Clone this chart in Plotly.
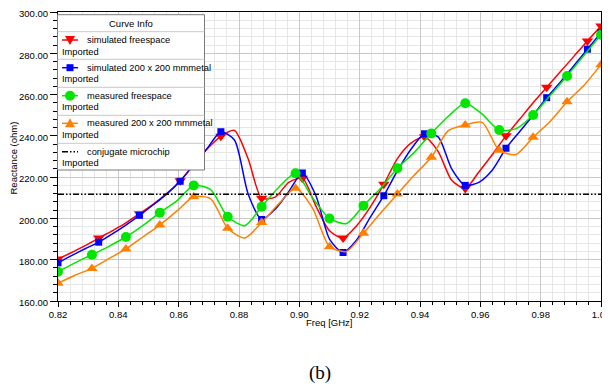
import plotly.graph_objects as go

# ---------------- data ----------------
sim_freq = [0.82, 0.8245, 0.829, 0.8335, 0.838, 0.8425, 0.847, 0.8515, 0.856, 0.8605,
            0.865, 0.8695, 0.874, 0.8785, 0.883, 0.8875, 0.892, 0.8965, 0.901, 0.9055,
            0.91, 0.9145, 0.919, 0.9235, 0.928, 0.9325, 0.937, 0.9415, 0.946, 0.9505,
            0.955, 0.9595, 0.964, 0.9685, 0.973, 0.9775, 0.982, 0.9865, 0.991, 0.9955, 1.0]
sim_free = [180.3, 183.5, 186.8, 190.5, 194.0, 197.8, 202.3, 206.8, 212.0, 218.3,
            226.0, 233.8, 239.8, 242.6, 229.0, 209.8, 210.3, 217.5, 219.5, 206.0,
            194.0, 190.5, 196.5, 205.5, 216.5, 229.0, 236.5, 239.6, 232.5, 218.5,
            214.5, 222.5, 231.0, 240.0, 248.0, 256.0, 263.5, 271.0, 278.5, 286.0, 293.2]
sim_metal = [178.5, 182.0, 185.3, 188.5, 192.5, 196.8, 201.5, 206.5, 211.8, 218.0,
             226.0, 234.0, 242.0, 238.0, 212.0, 199.5, 204.5, 213.0, 222.0, 211.0,
             190.0, 183.5, 189.5, 200.5, 211.0, 223.0, 233.5, 241.0, 239.5, 224.0,
             216.0, 217.5, 223.5, 234.0, 242.0, 250.0, 258.5, 266.0, 274.0, 282.0, 290.0]

meas_freq = [0.82, 0.825625, 0.83125, 0.836875, 0.8425, 0.848125, 0.85375, 0.859375,
             0.865, 0.870625, 0.87625, 0.881875, 0.8875, 0.893125, 0.89875, 0.904375,
             0.91, 0.915625, 0.92125, 0.926875, 0.9325, 0.938125, 0.94375, 0.949375,
             0.955, 0.960625, 0.96625, 0.971875, 0.9775, 0.983125, 0.98875, 0.994375, 1.0]
meas_free = [174.2, 178.5, 182.4, 186.5, 191.0, 196.5, 202.8, 208.5, 216.0, 214.0,
             200.8, 196.5, 205.7, 215.0, 221.9, 210.0, 200.0, 197.5, 206.2, 214.5,
             224.3, 232.0, 241.2, 249.5, 255.8, 250.5, 242.8, 243.5, 250.1, 259.5,
             269.0, 279.0, 289.0]
meas_metal = [168.6, 172.5, 175.8, 180.5, 185.2, 191.0, 196.8, 203.5, 210.5, 209.5,
              195.2, 190.5, 198.0, 207.0, 214.6, 205.0, 186.3, 184.0, 192.8, 202.5,
              211.8, 221.0, 229.6, 242.5, 245.3, 246.5, 233.0, 231.0, 239.3, 247.0,
              256.5, 264.5, 274.5]

conj_freq = [0.82, 1.0]
conj_r = [211.7, 211.7]

x_ticks = [0.82, 0.84, 0.86, 0.88, 0.90, 0.92, 0.94, 0.96, 0.98, 1.00]
x_tick_labels = ["0.82", "0.84", "0.86", "0.88", "0.90", "0.92", "0.94", "0.96", "0.98", "1.00"]
y_ticks = [160, 180, 200, 220, 240, 260, 280, 300]
y_tick_labels = ["160.00", "180.00", "200.00", "220.00", "240.00", "260.00", "280.00", "300.00"]

series_names = ["simulated freespace", "simulated 200 x 200 mmmetal",
                "measured freespace", "measured 200 x 200 mmmetal",
                "conjugate microchip"]
sub_label = "Imported"
legend_title = "Curve Info"
x_title = "Freq [GHz]"
y_title = "Reactance (ohm)"
caption = "(b)"

# ---------------- styling ----------------
RED, BLUE, GREEN, ORANGE = "#FF0000", "#0000FF", "#00E600", "#FF8000"
FONT = "Liberation Sans, Arial, sans-serif"
# the page body has an 8px margin: the figure is sized so it fills the 610x389 window
OFF = 8
W, H = 610 - OFF, 389 - OFF
L, R, T, B = 58 - OFF, 9, 12 - OFF, 88
PW, PH = W - L - R, H - T - B
PLOT_L, PLOT_B = 58, 301   # screen pixels of plot-area left / bottom


def xp(px):
    return (px - PLOT_L) / PW


def yp(py):
    return (PLOT_B - py) / PH


fig = go.Figure()

curves = [
    (sim_freq, sim_free, RED, "triangle-down", 10, list(range(0, 41, 3)) + [40]),
    (sim_freq, sim_metal, BLUE, "square", 7, list(range(0, 41, 3)) + [40]),
    (meas_freq, meas_free, GREEN, "circle", 10, list(range(0, 33, 2))),
    (meas_freq, meas_metal, ORANGE, "triangle-up", 10, list(range(0, 33, 2))),
]
for fx, fy, col, sym, msz, idx in curves:
    fig.add_trace(go.Scatter(x=fx, y=fy, mode="lines",
                             line=dict(color=col, width=1.5, shape="spline", smoothing=0.7),
                             showlegend=False, hoverinfo="skip"))
    fig.add_trace(go.Scatter(x=[fx[i] for i in idx], y=[fy[i] for i in idx], mode="markers",
                             marker=dict(color=col, symbol=sym, size=msz, line=dict(width=0)),
                             showlegend=False, hoverinfo="skip"))

DASH = "6px,2px,1.5px,2px,1.5px,2px"
fig.add_trace(go.Scatter(x=conj_freq, y=conj_r, mode="lines",
                         line=dict(color="black", width=1.5, dash=DASH),
                         showlegend=False, hoverinfo="skip"))

axis_common = dict(showline=True, linecolor="black", linewidth=1, mirror=True,
                   ticks="outside", tickcolor="black", showgrid=True, gridcolor="#C8C8C8",
                   gridwidth=1, zeroline=False, ticklabeloverflow="allow",
                   tickfont=dict(family=FONT, size=9.5, color="black"))

fig.update_xaxes(range=[0.82, 1.0], tickmode="array", tickvals=x_ticks, ticktext=x_tick_labels,
                 ticklen=5,
                 minor=dict(tickmode="linear", tick0=0.82, dtick=0.004, ticks="outside",
                            ticklen=3, tickcolor="black", showgrid=True, gridcolor="#E6E6E6"),
                 **axis_common)
fig.update_yaxes(range=[160, 300], tickmode="array", tickvals=y_ticks, ticktext=y_tick_labels,
                 ticklen=7, ticklabelshift=2,
                 minor=dict(tickmode="linear", tick0=160, dtick=4, ticks="outside", ticklen=4,
                            tickcolor="black", showgrid=True, gridcolor="#E6E6E6"),
                 **axis_common)

shapes = []
annots = []

# legend box
box_l, box_r, box_t, box_b = 57.5, 204.5, 14.7, 170.0
shapes.append(dict(type="rect", xref="paper", yref="paper", x0=xp(box_l), x1=xp(box_r),
                   y0=yp(box_b), y1=yp(box_t), fillcolor="white",
                   line=dict(color="#7A7A7A", width=1), layer="above"))
for sy in [31.7, 59.3, 87.3, 115.3, 143.3]:
    shapes.append(dict(type="line", xref="paper", yref="paper", x0=xp(box_l), x1=xp(box_r),
                       y0=yp(sy), y1=yp(sy), line=dict(color="#C8C8C8", width=1), layer="above"))
annots.append(dict(text=legend_title, xref="paper", yref="paper", x=xp((box_l + box_r) / 2),
                   y=yp(23.3), xanchor="center", yanchor="middle", showarrow=False,
                   font=dict(family=FONT, size=9.5, color="black")))

entry_y = [40.0, 67.7, 95.7, 123.3, 151.7]
sub_y = [51.7, 79.0, 107.0, 135.0, 163.0]
entry_col = [RED, BLUE, GREEN, ORANGE, "black"]
LEG_FS = 9.3
for i, name in enumerate(series_names):
    ey = entry_y[i]
    col = entry_col[i]
    shapes.append(dict(type="line", xref="paper", yref="paper", x0=xp(62), x1=xp(78),
                       y0=yp(ey), y1=yp(ey), layer="above",
                       line=dict(color=col, width=1.5, dash=DASH if i == 4 else "solid")))
    mk = dict(xref="paper", yref="paper", xsizemode="pixel", ysizemode="pixel",
              xanchor=xp(70), yanchor=yp(ey), fillcolor=col, line=dict(width=0), layer="above")
    if i == 0:
        shapes.append(dict(type="path", path="M -5 4 L 5 4 L 0 -5 Z", **mk))
    elif i == 1:
        shapes.append(dict(type="rect", x0=-3.5, x1=3.5, y0=-3.5, y1=3.5, **mk))
    elif i == 2:
        shapes.append(dict(type="circle", x0=-5, x1=5, y0=-5, y1=5, **mk))
    elif i == 3:
        shapes.append(dict(type="path", path="M -5 -4 L 5 -4 L 0 5 Z", **mk))
    annots.append(dict(text=name, xref="paper", yref="paper", x=xp(84.5), y=yp(ey),
                       xanchor="left", yanchor="middle", showarrow=False,
                       font=dict(family=FONT, size=LEG_FS, color="black")))
    annots.append(dict(text=sub_label, xref="paper", yref="paper", x=xp(60), y=yp(sub_y[i]),
                       xanchor="left", yanchor="middle", showarrow=False,
                       font=dict(family=FONT, size=LEG_FS, color="black")))

# axis titles and caption
annots.append(dict(text=x_title, xref="paper", yref="paper", x=xp(328.5), y=yp(322.5),
                   xanchor="center", yanchor="middle", showarrow=False,
                   font=dict(family=FONT, size=9.5, color="black")))
annots.append(dict(text=y_title, xref="paper", yref="paper", x=xp(12.5), y=yp(158),
                   xanchor="center", yanchor="middle", showarrow=False, textangle=-90,
                   font=dict(family=FONT, size=9.5, color="black")))
annots.append(dict(text=caption, xref="paper", yref="paper", x=xp(320), y=yp(373),
                   xanchor="center", yanchor="middle", showarrow=False,
                   font=dict(family="Liberation Serif, Times New Roman, serif", size=19,
                             color="black")))

fig.update_layout(width=W, height=H, margin=dict(l=L, r=R, t=T, b=B, pad=0, autoexpand=False),
                  paper_bgcolor="white", plot_bgcolor="white", showlegend=False,
                  shapes=shapes, annotations=annots)

fig.write_html("out.html")
